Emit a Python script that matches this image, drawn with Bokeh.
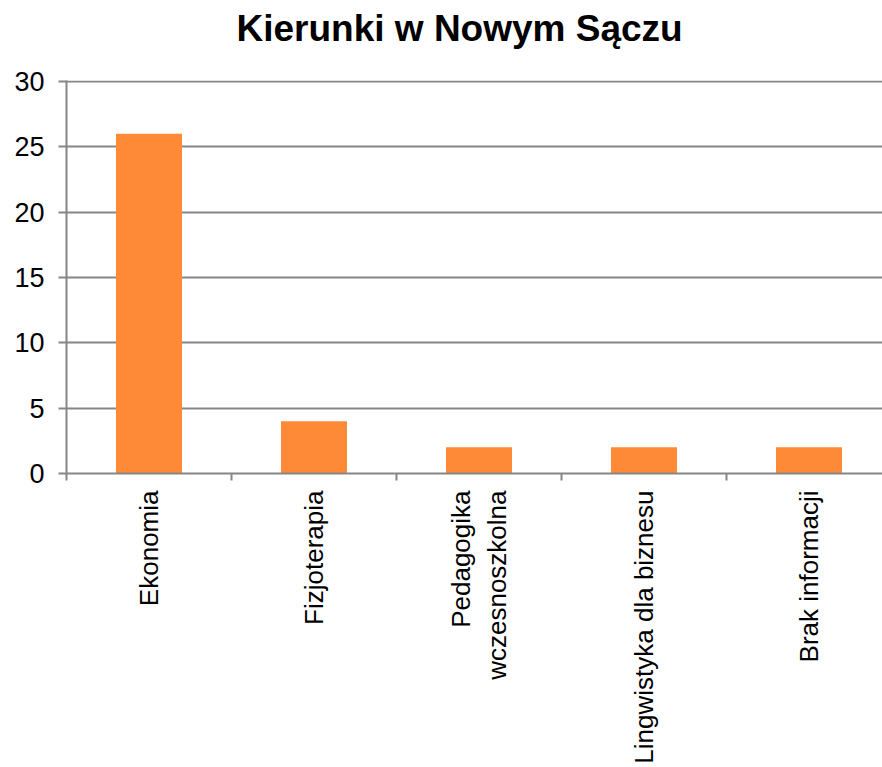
import math
import numpy as np
from bokeh.plotting import figure
from bokeh.models import Range1d, FixedTicker, ColumnDataSource, Title
from bokeh.embed import file_html
from bokeh.resources import INLINE

title = "Kierunki w Nowym Sączu"
categories = ["Ekonomia", "Fizjoterapia", "Pedagogika\nwczesnoszkolna",
              "Lingwistyka dla biznesu", "Brak informacji"]
values = [26, 4, 2, 2, 2]
y_ticks = [0, 5, 10, 15, 20, 25, 30]

W, H = 882, 767
left, top, bottom = 66, 80, 294
frame_w = W - left
cat_px = 165.0

xs = np.arange(len(categories)) + 0.5
src = ColumnDataSource(dict(x=xs, top=values, name=categories))

p = figure(width=W, height=H, output_backend="svg", toolbar_location=None,
           x_range=Range1d(0, frame_w / cat_px), y_range=Range1d(0, 30.08),
           min_border_left=left, min_border_right=0, min_border_top=top,
           min_border_bottom=bottom, title=title)
p.title.text_font = "Liberation Sans"
p.title.text_font_size = "37px"
p.title.text_font_style = "bold"
p.title.text_color = "black"
p.title.align = "left"
p.title.offset = 170
p.title.vertical_align = "bottom"
p.title.standoff = 0
p.outline_line_color = None

# empty spacer panel between title and plot area
p.add_layout(Title(text=" ", text_font_size="20px", standoff=8), "above")

p.vbar(x="x", top="top", width=0.4, source=src, color="#FE8A38", line_color=None)

grey = "#868686"
p.xgrid.grid_line_color = None
p.ygrid.grid_line_color = grey
p.ygrid.grid_line_width = 2

p.yaxis.ticker = FixedTicker(ticks=y_ticks)
p.yaxis.axis_line_color = grey
p.yaxis.axis_line_width = 2
p.yaxis.major_tick_line_color = grey
p.yaxis.major_tick_line_width = 2
p.yaxis.major_tick_out = 8
p.yaxis.major_tick_in = 0
p.yaxis.minor_tick_line_color = None
p.yaxis.major_label_text_font = "Liberation Sans"
p.yaxis.major_label_text_font_size = "27px"
p.yaxis.major_label_text_color = "black"
p.yaxis.major_label_standoff = 14

p.xaxis.ticker = FixedTicker(ticks=list(xs), minor_ticks=list(range(len(categories) + 1)))
p.xaxis.major_label_overrides = {float(x): c for x, c in zip(xs, categories)}
p.xaxis.major_label_orientation = math.pi / 2
p.xaxis.axis_line_color = grey
p.xaxis.axis_line_width = 2
p.xaxis.major_tick_line_color = None
p.xaxis.major_tick_out = 7
p.xaxis.major_tick_in = 0
p.xaxis.minor_tick_line_color = grey
p.xaxis.minor_tick_line_width = 2
p.xaxis.minor_tick_out = 7
p.xaxis.minor_tick_in = 0
p.xaxis.major_label_text_font = "Liberation Sans"
p.xaxis.major_label_text_font_size = "26px"
p.xaxis.major_label_text_color = "black"
p.xaxis.major_label_standoff = 10

open("out.html", "w").write(file_html(p, INLINE))
